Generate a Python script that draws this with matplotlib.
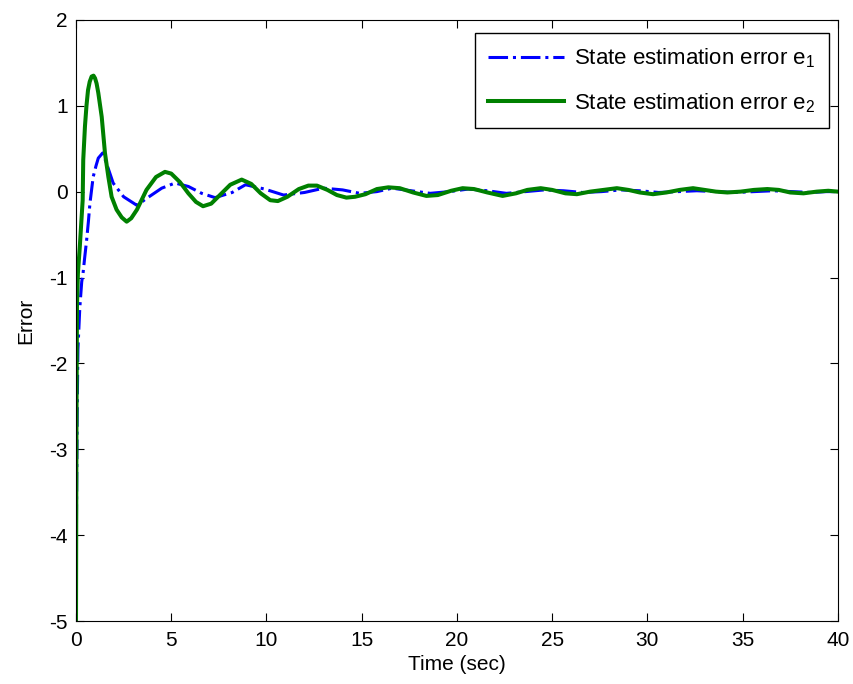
"""State estimation error response of the observer."""

import matplotlib
matplotlib.use("Agg")
import matplotlib.pyplot as plt

# e1: blue dash-dot
t_e1 = [0.0, 0.03, 0.06, 0.1, 0.2, 0.3, 0.37, 0.45, 0.56, 0.65, 0.73, 0.9, 1.05, 1.17,
        1.4, 1.6, 1.95, 2.5, 3.2, 3.7, 4.5, 5.2, 5.9, 6.6, 7.3, 8.2, 8.9, 9.9, 10.9,
        12.0, 13.0, 14.0, 14.9, 15.8, 16.6, 17.6, 18.6, 19.6, 20.6, 21.6, 22.6, 23.6,
        24.6, 25.6, 26.6, 27.6, 28.6, 29.6, 30.6, 31.6, 32.6, 33.6, 34.6, 35.6, 36.6,
        37.6, 38.6, 39.4, 40.0]
e1 = [-5.0, -3.6, -2.6, -1.84, -1.35, -1.05, -0.95, -0.78, -0.56, -0.35, -0.14, 0.17,
      0.3, 0.39, 0.45, 0.33, 0.1, -0.06, -0.16, -0.08, 0.04, 0.10, 0.06, -0.02, -0.07,
      -0.01, 0.08, 0.03, -0.04, -0.01, 0.04, 0.02, -0.02, 0.0, 0.04, 0.01, -0.02, 0.0,
      0.03, 0.01, -0.02, 0.0, 0.02, 0.01, -0.01, 0.0, 0.02, 0.01, -0.01, 0.0, 0.01,
      0.0, -0.01, 0.0, 0.01, 0.0, -0.01, 0.0, 0.0]

# e2: green solid
t_e2 = [0.0, 0.02, 0.05, 0.1, 0.2, 0.28, 0.35, 0.38, 0.47, 0.55, 0.63, 0.72, 0.82, 0.92,
        1.0, 1.08, 1.17, 1.35, 1.52, 1.7, 1.87, 2.13, 2.4, 2.66, 2.9, 3.2, 3.7, 4.2,
        4.67, 5.0, 5.46, 5.9, 6.3, 6.67, 7.1, 7.6, 8.1, 8.7, 9.2, 9.7, 10.2, 10.6,
        11.1, 11.7, 12.2, 12.65, 13.2, 13.7, 14.2, 14.65, 15.2, 15.8, 16.4, 17.0, 17.7,
        18.4, 19.0, 19.7, 20.3, 20.9, 21.6, 22.4, 23.1, 23.7, 24.4, 25.0, 25.7, 26.3,
        27.0, 27.7, 28.4, 29.0, 29.6, 30.3, 31.0, 31.7, 32.4, 33.0, 33.6, 34.2, 34.9,
        35.6, 36.3, 36.9, 37.5, 38.2, 38.9, 39.5, 40.0]
e2 = [-5.0, -3.0, -1.34, -0.95, -0.64, -0.35, -0.1, 0.37, 0.76, 1.0, 1.18, 1.28, 1.34,
      1.35, 1.32, 1.26, 1.15, 0.87, 0.45, 0.17, -0.06, -0.21, -0.3, -0.35, -0.31, -0.21,
      0.02, 0.17, 0.23, 0.21, 0.11, -0.02, -0.12, -0.17, -0.14, -0.03, 0.08, 0.14,
      0.09, -0.02, -0.1, -0.11, -0.06, 0.03, 0.07, 0.07, 0.02, -0.04, -0.07, -0.06,
      -0.03, 0.03, 0.05, 0.04, -0.01, -0.05, -0.04, 0.01, 0.04, 0.03, -0.01, -0.05,
      -0.02, 0.02, 0.04, 0.02, -0.02, -0.03, 0.0, 0.02, 0.04, 0.02, -0.01, -0.03,
      -0.01, 0.02, 0.04, 0.02, 0.0, -0.01, 0.0, 0.02, 0.03, 0.02, -0.01, -0.02, 0.0,
      0.01, 0.0]

xticks = [0, 5, 10, 15, 20, 25, 30, 35, 40]
yticks = [-5, -4, -3, -2, -1, 0, 1, 2]

plt.rcParams["font.family"] = ["Liberation Sans", "DejaVu Sans"]
plt.rcParams["font.size"] = 15
plt.rcParams["axes.unicode_minus"] = False
plt.rcParams["mathtext.fontset"] = "custom"
plt.rcParams["mathtext.rm"] = "Liberation Sans"

fig = plt.figure(figsize=(8.54, 6.84), dpi=100)
ax = fig.add_axes([0.089, 0.092, 0.892, 0.879])

ax.plot(t_e1, e1, color="#0000ff", linestyle="-.", linewidth=2.2,
        label=r"State estimation error e$_\mathregular{1}$")
ax.plot(t_e2, e2, color="#008000", linestyle="-", linewidth=2.9,
        label=r"State estimation error e$_\mathregular{2}$")

ax.set_xlim(0, 40)
ax.set_ylim(-5, 2)
ax.set_xticks(xticks)
ax.set_yticks(yticks)
ax.tick_params(direction="in", top=True, right=True, length=6, labelsize=15)
ax.tick_params(axis="x", pad=7)
ax.tick_params(axis="y", pad=6)
ax.set_xlabel("Time (sec)", fontsize=15, labelpad=4)
ax.set_ylabel("Error", fontsize=15, labelpad=10)

leg = ax.legend(loc="upper right", bbox_to_anchor=(0.988, 0.978), borderaxespad=0,
                fontsize=16, fancybox=False, edgecolor="black", framealpha=1,
                handlelength=3.4, handletextpad=0.45, labelspacing=0.95,
                borderpad=0.6)
leg.get_frame().set_linewidth(1.0)

fig.savefig("out.png", dpi=100)
plt.close(fig)
